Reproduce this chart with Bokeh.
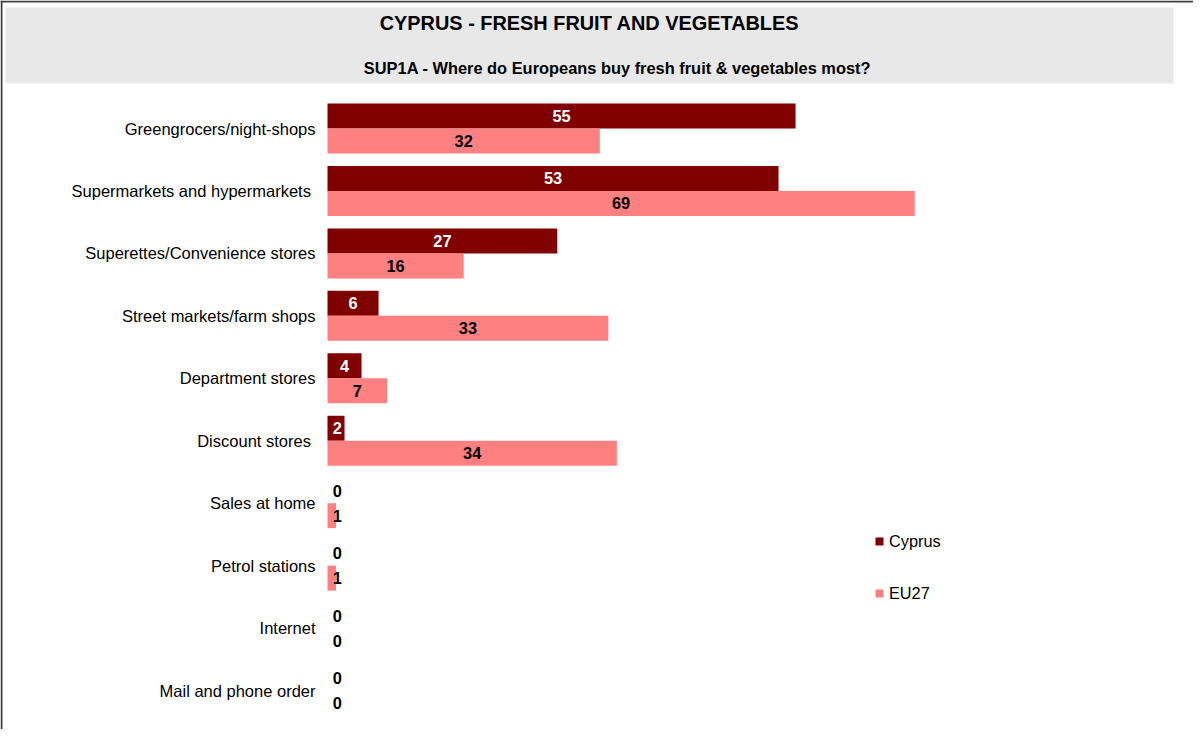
from bokeh.plotting import figure
from bokeh.models import Range1d, ColumnDataSource, Legend, LegendItem
from bokeh.core.properties import value
from bokeh.embed import file_html
from bokeh.resources import INLINE

# ---- data ----
categories = [
    "Greengrocers/night-shops",
    "Supermarkets and hypermarkets ",
    "Superettes/Convenience stores",
    "Street markets/farm shops",
    "Department stores",
    "Discount stores ",
    "Sales at home",
    "Petrol stations",
    "Internet",
    "Mail and phone order",
]
cyprus = [55, 53, 27, 6, 4, 2, 0, 0, 0, 0]
eu27 = [32, 69, 16, 33, 7, 34, 1, 1, 0, 0]
series_names = ["Cyprus", "EU27"]
title_text = "CYPRUS - FRESH FRUIT AND VEGETABLES"
subtitle_text = "SUP1A - Where do Europeans buy fresh fruit & vegetables most?"

# ---- layout (pixels) ----
W, H = 1193, 729
ZERO_PX = 327.0      # frame px of value 0
UNIT_PX = 8.51       # px per percentage point
FIRST_PX = 128.0     # frame px of first category centre
GROUP_PX = 62.45     # px between categories

def fx(px):
    return (px - ZERO_PX) / UNIT_PX

def fy(py):
    return (py - FIRST_PX) / GROUP_PX

FONT = "Liberation Sans"
C_CY = "#800000"
C_EU = "#FF8080"

p = figure(width=W, height=H, output_backend="svg", toolbar_location=None,
           x_range=Range1d(fx(0), fx(W)), y_range=Range1d(fy(H), fy(0)),
           min_border=0, min_border_left=0, min_border_right=0,
           min_border_top=0, min_border_bottom=0)
p.axis.visible = False
p.grid.visible = False
p.outline_line_color = None
p.background_fill_color = "white"
p.border_fill_color = "white"

# frame lines (top and left) and title box
p.segment(x0=[fx(0)], y0=[fy(1)], x1=[fx(W)], y1=[fy(1)], line_color="#404040", line_width=2)
p.segment(x0=[fx(1)], y0=[fy(0)], x1=[fx(1)], y1=[fy(H)], line_color="#404040", line_width=2)
p.quad(left=[fx(5)], right=[fx(1173)], top=[fy(7)], bottom=[fy(83)],
       fill_color="#E8E8E8", line_color=None)
p.text(x=[fx(589)], y=[fy(22)], text=[title_text], text_font=value(FONT),
       text_font_style="bold", text_font_size="19.9px", text_align="center",
       text_baseline="middle", text_color="black")
p.text(x=[fx(617)], y=[fy(67)], text=[subtitle_text], text_font=value(FONT),
       text_font_style="bold", text_font_size="16.4px", text_align="center",
       text_baseline="middle", text_color="black")

# bars
idx = list(range(len(categories)))
BAR_H = 0.4
cy_src = ColumnDataSource(dict(
    y=[i - BAR_H / 2 for i in idx], v=cyprus,
    lx=[max(v / 2, 1.15) for v in cyprus],
    lt=[str(v) for v in cyprus],
    lc=["white" if v > 0 else "black" for v in cyprus]))
eu_src = ColumnDataSource(dict(
    y=[i + BAR_H / 2 for i in idx], v=eu27,
    lx=[max(v / 2, 1.15) for v in eu27],
    lt=[str(v) for v in eu27],
    lc=["black" for v in eu27]))

r_cy = p.hbar(y="y", left=0, right="v", height=BAR_H, source=cy_src,
              fill_color=C_CY, line_color=None)
r_eu = p.hbar(y="y", left=0, right="v", height=BAR_H, source=eu_src,
              fill_color=C_EU, line_color=None)

for src in (cy_src, eu_src):
    p.text(x="lx", y="y", text="lt", source=src, text_color="lc",
           text_font=value(FONT), text_font_style="bold", text_font_size="16.4px",
           text_align="center", text_baseline="middle")

# category labels
p.text(x=[0] * len(categories), y=idx, text=categories, x_offset=-12,
       text_font=value(FONT), text_font_size="16.5px", text_align="right",
       text_baseline="middle", text_color="black")

legend = Legend(items=[LegendItem(label=series_names[0], renderers=[r_cy]),
                       LegendItem(label=series_names[1], renderers=[r_eu])],
                location=(874, 126), glyph_width=10, glyph_height=10,
                label_height=20, spacing=32, label_standoff=5, padding=10,
                margin=0, border_line_color=None, background_fill_alpha=0,
                label_text_font=FONT, label_text_font_size="16.3px",
                label_text_color="black")
p.add_layout(legend)

open("out.html", "w").write(file_html(p, INLINE))
